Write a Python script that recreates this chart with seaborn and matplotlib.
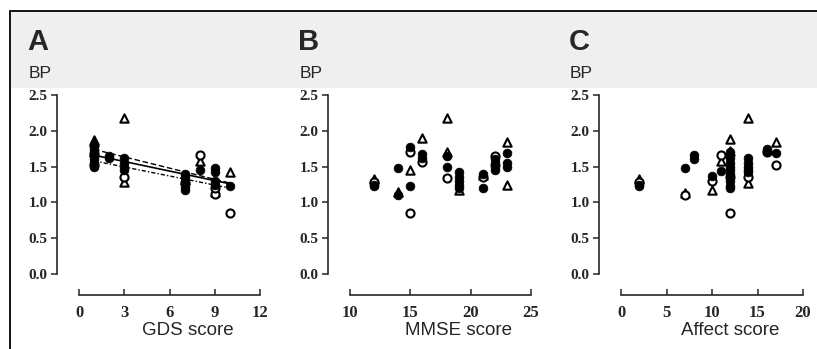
import numpy as np
import pandas as pd
import matplotlib
matplotlib.use("Agg")
import matplotlib.pyplot as plt
from matplotlib.patches import Rectangle
from matplotlib.font_manager import FontProperties
import seaborn as sns

# panel A: GDS score
gds_filled_x = [1, 1, 1, 1, 1, 1, 1, 2, 2, 3, 3, 3, 3, 7, 7, 7, 7, 7, 8, 9, 9, 9, 9, 10]
gds_filled_y = [1.50, 1.55, 1.60, 1.65, 1.70, 1.75, 1.80, 1.65, 1.62, 1.62, 1.55, 1.50, 1.45,
                1.40, 1.35, 1.30, 1.22, 1.18, 1.45, 1.48, 1.42, 1.30, 1.25, 1.23]
gds_open_x = [1, 1, 3, 7, 8, 9, 9, 10]
gds_open_y = [1.52, 1.68, 1.35, 1.27, 1.66, 1.12, 1.20, 0.85]
gds_tri_x = [1, 1, 1, 3, 3, 7, 8, 9, 10]
gds_tri_y = [1.87, 1.84, 1.70, 2.18, 1.28, 1.31, 1.58, 1.15, 1.43]
# fitted lines in panel A (start at GDS 1, end at GDS 10)
fit_x = [1, 10]
fit_dashed = [1.74, 1.27]
fit_solid = [1.66, 1.26]
fit_dashdot = [1.58, 1.20]

# panel B: MMSE score
mmse_filled_x = [12, 12, 14, 14, 15, 15, 16, 16, 18, 18, 19, 19, 19, 19, 19, 21, 21,
                 22, 22, 22, 22, 23, 23, 23]
mmse_filled_y = [1.25, 1.23, 1.48, 1.11, 1.77, 1.23, 1.68, 1.62, 1.65, 1.50, 1.42, 1.36,
                 1.30, 1.25, 1.20, 1.40, 1.20, 1.60, 1.55, 1.50, 1.45, 1.69, 1.55, 1.50]
mmse_open_x = [12, 15, 15, 16, 18, 21, 22]
mmse_open_y = [1.29, 1.70, 0.85, 1.57, 1.34, 1.35, 1.65]
mmse_tri_x = [12, 14, 15, 16, 18, 18, 19, 21, 22, 23, 23]
mmse_tri_y = [1.32, 1.15, 1.45, 1.90, 2.18, 1.70, 1.18, 1.38, 1.58, 1.84, 1.25]

# panel C: Affect score
aff_filled_x = [2, 2, 7, 8, 8, 10, 11, 12, 12, 12, 12, 12, 12, 12, 12, 12,
                14, 14, 14, 14, 14, 16, 16, 17]
aff_filled_y = [1.25, 1.23, 1.48, 1.66, 1.60, 1.37, 1.44, 1.70, 1.62, 1.55, 1.50, 1.45,
                1.40, 1.30, 1.23, 1.20, 1.62, 1.55, 1.50, 1.45, 1.42, 1.75, 1.72, 1.69]
aff_open_x = [2, 7, 10, 11, 12, 12, 14, 16, 17]
aff_open_y = [1.29, 1.11, 1.30, 1.66, 0.85, 1.35, 1.35, 1.70, 1.52]
aff_tri_x = [2, 7, 10, 11, 12, 12, 14, 14, 17]
aff_tri_y = [1.32, 1.13, 1.18, 1.58, 1.88, 1.72, 2.18, 1.27, 1.84]

panel_letters = ["A", "B", "C"]
x_labels = ["GDS score", "MMSE score", "Affect score"]
x_ticks = [[0, 3, 6, 9, 12], [10, 15, 20, 25], [0, 5, 10, 15, 20]]
y_ticks = [0.0, 0.5, 1.0, 1.5, 2.0, 2.5]

sns.set_style("ticks")
plt.rcParams["font.family"] = ["Liberation Sans", "DejaVu Sans"]
ytick_fp = FontProperties(family="Liberation Serif", weight="bold", size=11)
xtick_fp = FontProperties(family="Liberation Serif", weight="bold", size=12)

W, H = 817, 349
fig = plt.figure(figsize=(W / 100, H / 100), dpi=100)

#grey scan band + frame (behind the axes)
fig.patches.append(Rectangle((10 / W, 1 - 88 / H), 1, 76 / H, transform=fig.transFigure,
                             facecolor="#efefef", edgecolor="none", zorder=-2))
fig.patches.append(Rectangle((10 / W, -0.1), 1, 1.1 - 11 / H, transform=fig.transFigure,
                             fill=False, edgecolor="black", lw=1.3, zorder=-1))

ax_left = [79, 350, 621]
ax_w = [181, 181, 182]
top_px, bot_px = 95, 274

panels = [
    (gds_filled_x, gds_filled_y, gds_open_x, gds_open_y, gds_tri_x, gds_tri_y),
    (mmse_filled_x, mmse_filled_y, mmse_open_x, mmse_open_y, mmse_tri_x, mmse_tri_y),
    (aff_filled_x, aff_filled_y, aff_open_x, aff_open_y, aff_tri_x, aff_tri_y),
]

for i, (fx, fy, ox, oy, tx, ty) in enumerate(panels):
    ax = fig.add_axes([ax_left[i] / W, 1 - bot_px / H, ax_w[i] / W, (bot_px - top_px) / H])
    ax.patch.set_alpha(0)

    sns.scatterplot(x=tx, y=ty, ax=ax, marker="^", s=36, facecolor="white",
                    edgecolor="black", linewidth=1.5, zorder=3)
    sns.scatterplot(x=ox, y=oy, ax=ax, marker="o", s=34, facecolor="white",
                    edgecolor="black", linewidth=1.5, zorder=4)
    sns.scatterplot(x=fx, y=fy, ax=ax, marker="o", s=40, color="black",
                    edgecolor="black", linewidth=0.5, zorder=5)

    if i == 0:
        #regression lines
        sns.lineplot(x=fit_x, y=fit_dashed, ax=ax, color="black", lw=1, linestyle=(0, (4, 2)), zorder=6)
        sns.lineplot(x=fit_x, y=fit_solid, ax=ax, color="black", lw=1.2, zorder=6)
        sns.lineplot(x=fit_x, y=fit_dashdot, ax=ax, color="black", lw=1, linestyle=(0, (3, 1.5, 1, 1.5)), zorder=6)

    ax.set_xlim(x_ticks[i][0], x_ticks[i][-1])
    ax.set_ylim(0, 2.5)
    ax.set_xticks(x_ticks[i])
    ax.set_yticks(y_ticks)
    sns.despine(ax=ax, offset={"left": 16, "bottom": 15}, trim=True)
    ax.set_yticks(y_ticks, [f"{v:.1f}" for v in y_ticks])
    ax.set_xticks(x_ticks[i], [str(v) for v in x_ticks[i]])
    for lbl in ax.get_yticklabels():
        lbl.set_fontproperties(ytick_fp)
    for lbl in ax.get_xticklabels():
        lbl.set_fontproperties(xtick_fp)
    ax.tick_params(axis="y", direction="out", length=4, width=1.1, pad=2.5)
    ax.tick_params(axis="x", direction="in", length=4, width=1.1, pad=7)
    for s in ["left", "bottom"]:
        ax.spines[s].set_linewidth(1.2)

    ax.set_xlabel(x_labels[i], fontsize=13.5)
    ax.xaxis.set_label_coords(0.5 + 18 / ax_w[i], -0.27)
    ax.set_ylabel("")
    ax.text(-0.28, 1.095, "BP", transform=ax.transAxes, fontsize=12.5, ha="left", va="baseline")
    ax.text(-0.285, 1.25, panel_letters[i], transform=ax.transAxes, fontsize=21,
            fontweight="heavy", ha="left", va="baseline")

fig.savefig("out.png", dpi=100)
